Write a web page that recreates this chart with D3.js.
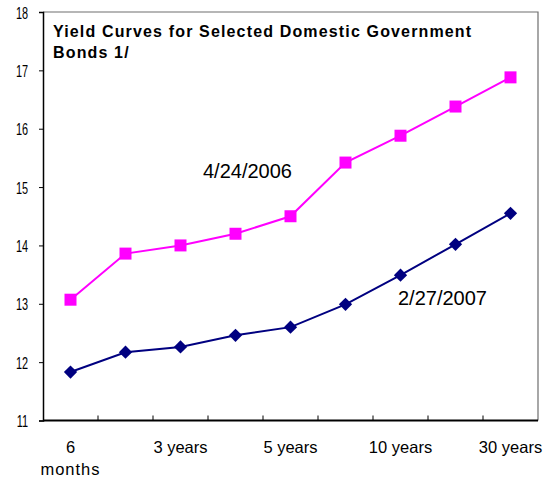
<!DOCTYPE html>
<html>
<head>
<meta charset="utf-8">
<script src="https://cdn.jsdelivr.net/npm/d3@7/dist/d3.min.js"></script>
<style>
  html, body { margin: 0; padding: 0; background: #fff; }
  svg { display: block; }
  text { font-family: "Liberation Sans", Arial, sans-serif; fill: #000; }
</style>
</head>
<body>
<svg id="chart" width="547" height="478"></svg>
<script>
// ---- data ----
const categories = ["6 months", "1 year", "3 years", "4 years", "5 years", "7 years", "10 years", "15 years", "30 years"];
const tickLabels = [["6", "months"], [], ["3 years"], [], ["5 years"], [], ["10 years"], [], ["30 years"]];
const series2006 = [13.07, 13.86, 14.0, 14.2, 14.5, 15.42, 15.88, 16.38, 16.88];
const series2007 = [11.83, 12.17, 12.26, 12.46, 12.6, 12.99, 13.49, 14.02, 14.55];
const yTicks = [11, 12, 13, 14, 15, 16, 17, 18];
const title = ["Yield Curves for Selected Domestic Government", "Bonds 1/"];
const label2006 = "4/24/2006";
const label2007 = "2/27/2007";

// ---- layout ----
const pLeft = 43, pRight = 538, pTop = 12, pBottom = 420.5;
const svg = d3.select("#chart");

const x = d3.scaleBand().domain(categories).range([pLeft, pRight]).padding(0);
const y = d3.scaleLinear().domain([11, 18]).range([pBottom, pTop]);
const cx = c => x(c) + x.bandwidth() / 2;

// frame (top / right)
svg.append("path")
  .attr("d", `M${pLeft},${pTop}H${pRight}V${pBottom}`)
  .attr("fill", "none").attr("stroke", "#6e6e6e").attr("stroke-width", 1.2);

// y axis
const yAxis = svg.append("g").attr("transform", `translate(${pLeft},0)`)
  .call(d3.axisLeft(y).tickValues(yTicks).tickSize(4).tickFormat(d3.format("d")));
yAxis.select(".domain").attr("stroke", "#000").attr("stroke-width", 1.5);
yAxis.selectAll(".tick line").attr("stroke", "#000");
yAxis.selectAll(".tick text")
  .attr("x", 0)
  .attr("dy", "0.36em")
  .attr("transform", "translate(-15,0) scale(0.64,1)")
  .style("font-size", "17px").style("font-family", "'Liberation Sans', Arial, sans-serif")
  .attr("fill", "#000");

// x axis line
svg.append("line").attr("x1", pLeft).attr("x2", pRight).attr("y1", pBottom).attr("y2", pBottom)
  .attr("stroke", "#000").attr("stroke-width", 2);
// inner ticks at band boundaries
svg.selectAll(".xtick").data(categories.slice(1)).enter().append("line")
  .attr("class", "xtick")
  .attr("x1", d => x(d)).attr("x2", d => x(d))
  .attr("y1", pBottom).attr("y2", pBottom - 5)
  .attr("stroke", "#000").attr("stroke-width", 1);
// x labels
categories.forEach((c, i) => {
  tickLabels[i].forEach((t, j) => {
    svg.append("text")
      .attr("x", cx(c)).attr("y", 453 + j * 22)
      .attr("text-anchor", "middle")
      .style("font-size", "16.5px")
      .style("letter-spacing", t === "months" ? "1px" : "0px")
      .text(t);
  });
});

// lines & markers
const line = d3.line().x((d, i) => cx(categories[i])).y(d => y(d));

svg.append("path").datum(series2006).attr("d", line)
  .attr("fill", "none").attr("stroke", "#ff00ff").attr("stroke-width", 2);
svg.append("path").datum(series2007).attr("d", line)
  .attr("fill", "none").attr("stroke", "#000080").attr("stroke-width", 2);

const sq = d3.symbol().type(d3.symbolSquare).size(144);
svg.selectAll(".m06").data(series2006).enter().append("path")
  .attr("class", "m06").attr("d", sq)
  .attr("transform", (d, i) => `translate(${cx(categories[i])},${y(d)})`)
  .attr("fill", "#ff00ff");

const dm = d3.symbol().type(d3.symbolSquare).size(88);
svg.selectAll(".m07").data(series2007).enter().append("path")
  .attr("class", "m07").attr("d", dm)
  .attr("transform", (d, i) => `translate(${cx(categories[i])},${y(d)}) rotate(45)`)
  .attr("fill", "#000080");

// title
title.forEach((t, i) => {
  svg.append("text").attr("x", 53).attr("y", 37 + i * 20.5)
    .style("font-size", "16px").style("font-weight", "bold")
    .style("letter-spacing", "1.15px")
    .text(t);
});

// series labels
svg.append("text").attr("x", 203).attr("y", 178)
  .style("font-size", "20px").text(label2006);
svg.append("text").attr("x", 398).attr("y", 305)
  .style("font-size", "20px").text(label2007);
</script>
</body>
</html>
